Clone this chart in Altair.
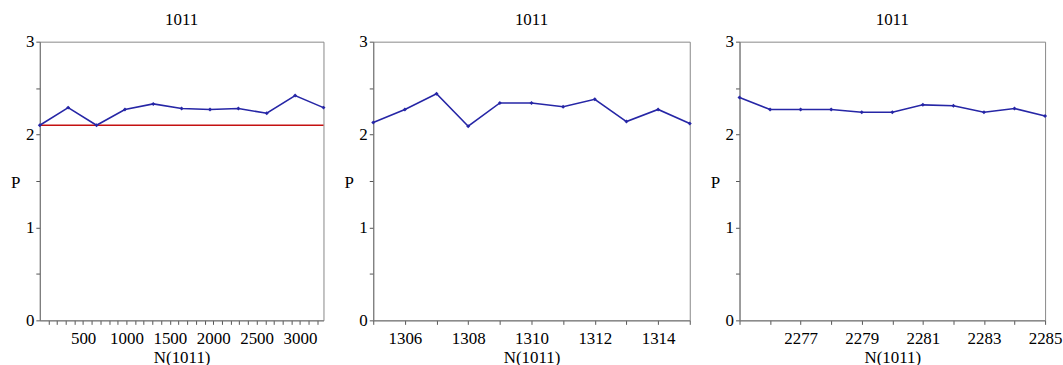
import altair as alt
import pandas as pd

# ---- data ----
n1 = [1, 328, 655, 982, 1309, 1636, 1963, 2290, 2617, 2944, 3271]
p1 = [2.10, 2.29, 2.10, 2.27, 2.33, 2.28, 2.27, 2.28, 2.23, 2.42, 2.29]
ref_level = [2.10]

n2 = [1305, 1306, 1307, 1308, 1309, 1310, 1311, 1312, 1313, 1314, 1315]
p2 = [2.13, 2.27, 2.44, 2.09, 2.34, 2.34, 2.30, 2.38, 2.14, 2.27, 2.12]

n3 = [2275, 2276, 2277, 2278, 2279, 2280, 2281, 2282, 2283, 2284, 2285]
p3 = [2.40, 2.27, 2.27, 2.27, 2.24, 2.24, 2.32, 2.31, 2.24, 2.28, 2.20]

panel_title = "1011"
x_title = "N(1011)"
y_title = "P"
y_ticks = [0, 0.5, 1, 1.5, 2, 2.5, 3]

FONT = "Liberation Serif"
BLUE = "#2626a6"
RED = "#c41010"
H = 280


def panel(n, p, xdomain, xvals, label_expr, width, ref=None):
    df = pd.DataFrame({"N": n, "P": p})
    x = alt.X(
        "N:Q",
        scale=alt.Scale(domain=xdomain, nice=False, zero=False),
        axis=alt.Axis(
            values=xvals,
            labelExpr=label_expr,
            title=x_title,
            labelFlush=False,
            labelOverlap=False,
            tickSize=4,
            labelPadding=6,
            titlePadding=3,
        ),
    )
    y = alt.Y(
        "P:Q",
        scale=alt.Scale(domain=[0, 3], nice=False, zero=True),
        axis=alt.Axis(
            values=y_ticks,
            labelExpr="datum.value % 1 === 0 ? '' + datum.value : ''",
            title=y_title,
            titleAngle=0,
            titleX=-20,
            titleY=142,
            titleAlign="right",
            titleBaseline="middle",
            tickSize=4,
            labelPadding=2,
            labelOverlap=False,
        ),
    )
    layers = []
    if ref is not None:
        rdf = pd.DataFrame({"P": ref})
        layers.append(
            alt.Chart(rdf).mark_rule(color=RED, strokeWidth=1.5).encode(y=alt.Y("P:Q"))
        )
    base = alt.Chart(df).encode(x=x, y=y)
    layers.append(base.mark_line(color=BLUE, strokeWidth=1.6, clip=False))
    layers.append(
        base.mark_point(color=BLUE, filled=True, size=16, shape="diamond", opacity=1)
    )
    return alt.layer(*layers).properties(
        width=width,
        height=H,
        title=alt.TitleParams(
            panel_title, font=FONT, fontSize=17, fontWeight="normal", color="black", offset=4
        ),
    )


c1 = panel(
    n1, p1, [1, 3271], list(range(100, 3300, 100)),
    "datum.value % 500 === 0 ? '' + datum.value : ''", 285, ref=ref_level,
)
c2 = panel(
    n2, p2, [1305, 1315], n2,
    "datum.value % 2 === 0 ? '' + datum.value : ''", 318,
)
c3 = panel(
    n3, p3, [2275, 2285], n3,
    "(datum.value % 2 === 1 && datum.value > 2275) ? '' + datum.value : ''", 307,
)

chart = (
    alt.hconcat(c1, c2, c3, spacing=16)
    .properties(
        padding={"left": 10, "top": 9, "right": 0, "bottom": 0},
        background="white",
    )
    .configure_axis(
        labelFont=FONT,
        titleFont=FONT,
        labelFontSize=17,
        titleFontSize=17,
        titleFontWeight="normal",
        labelColor="black",
        titleColor="black",
        tickColor="#555555",
        domainColor="#777777",
        grid=False,
    )
    .configure_view(stroke="#888888", strokeWidth=1)
)

chart.save("out.html", embed_options={"renderer": "svg", "actions": False})
